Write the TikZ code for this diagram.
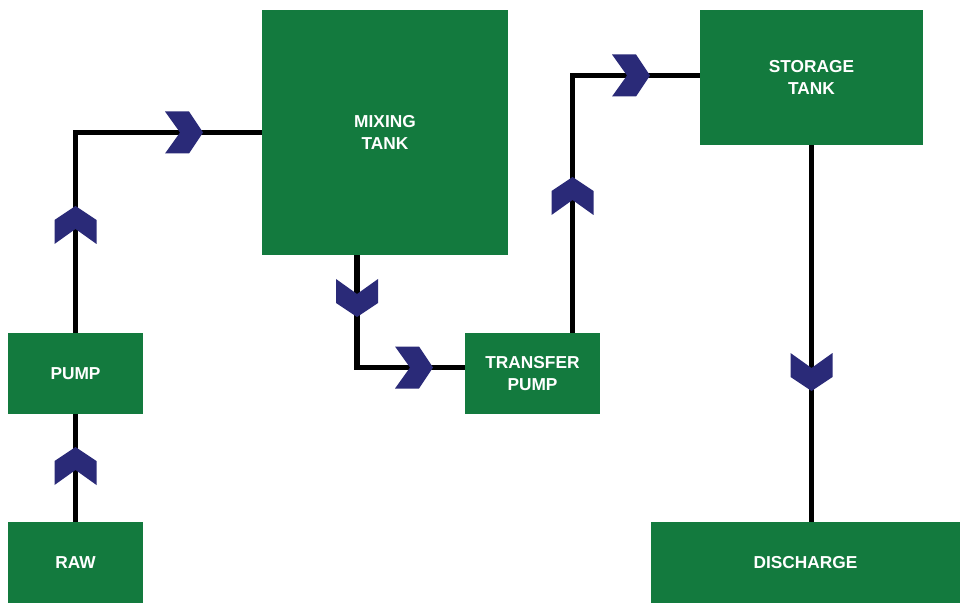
\documentclass[tikz,border=0pt]{standalone}
\usepackage{tikz}
\usepackage{fontspec}
\setmainfont{Liberation Sans}
\usetikzlibrary{arrows,positioning}

\definecolor{plantgreen}{RGB}{19,122,62}
\definecolor{chevblue}{RGB}{42,42,120}

\tikzset{
  box/.style={rectangle,fill=plantgreen,draw=none,text=white,align=center,
    font=\fontsize{17.3}{22.5}\selectfont\bfseries,inner sep=0pt},
  flow/.style={draw=black,line width=5.5pt},
  chev/.pic={\fill[chevblue] (0,0) -- (-14,21) -- (-38,21) -- (-23,0) -- (-38,-21) -- (-14,-21) -- cycle;}
}

\begin{document}
\begin{tikzpicture}[x=1pt,y=1pt]
\useasboundingbox (0,0) rectangle (960,603);
\node at (75.5,40.5)[box,minimum width=135pt,minimum height=81pt](raw){RAW};
\node at (75.5,229.5)[box,minimum width=135pt,minimum height=81pt](pump){PUMP};
\node at (385,470.5)[box,minimum width=246pt,minimum height=245pt](mix){MIXING\\TANK};
\node at (532.5,229.5)[box,minimum width=135pt,minimum height=81pt](tp){TRANSFER\\PUMP};
\node at (811.5,525.5)[box,minimum width=223pt,minimum height=135pt](st){STORAGE\\TANK};
\node at (805.5,40.5)[box,minimum width=309pt,minimum height=81pt](dis){DISCHARGE};

\draw[flow] (raw) -- (pump);
\draw[flow] (pump.north) |- (mix.west);
\draw[flow] ([xshift=-28pt]mix.south) |- ([yshift=6pt]tp.west);
\draw[flow] ([xshift=40pt]tp.north) |- ([yshift=2pt]st.west);
\draw[flow] (st.south) -- (st.south |- dis.north);

\pic[rotate=90] at (75.5,156) {chev};
\pic[rotate=90] at (75.5,397) {chev};
\pic at (203,470.5) {chev};
\pic[rotate=-90] at (357,286) {chev};
\pic at (433,235.5) {chev};
\pic[rotate=90] at (572.5,426) {chev};
\pic at (650,527.5) {chev};
\pic[rotate=-90] at (811.5,212) {chev};
\end{tikzpicture}
\end{document}
